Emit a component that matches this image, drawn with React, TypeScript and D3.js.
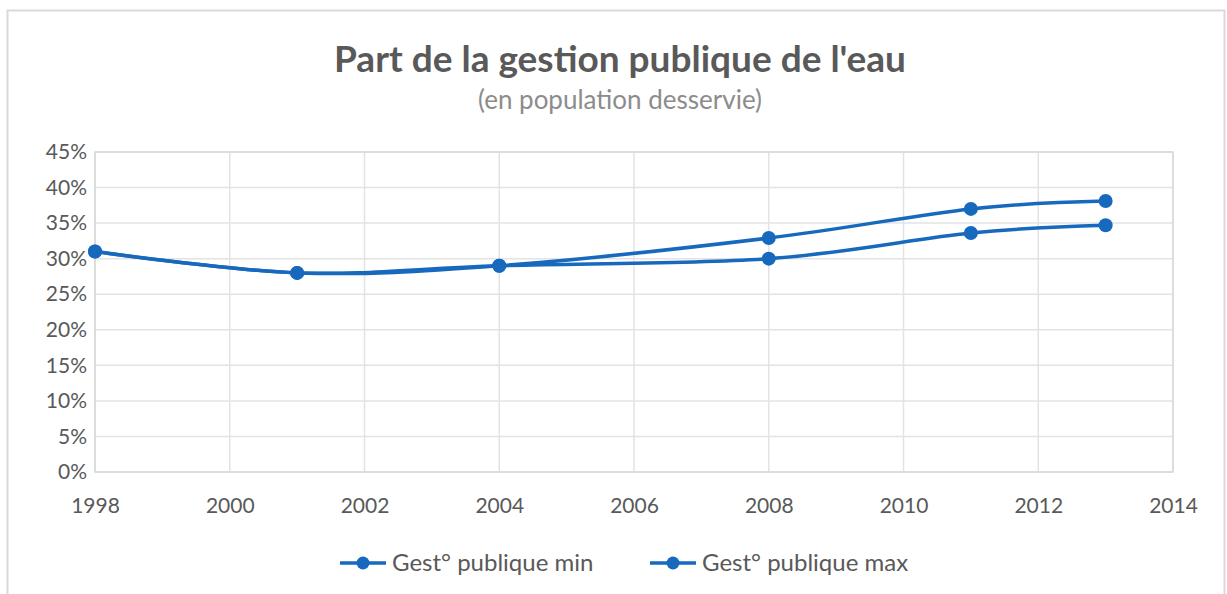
import React, { useEffect, useRef } from 'react';
import * as d3 from 'd3';

const years = [1998, 2001, 2004, 2008, 2011, 2013];
const minValues = [31, 28, 29, 30, 33.6, 34.7];
const maxValues = [31, 28, 29, 32.9, 37, 38.1];
const seriesNames = ['Gest° publique min', 'Gest° publique max'];
const xTicks = [1998, 2000, 2002, 2004, 2006, 2008, 2010, 2012, 2014];
const yTicks = [0, 5, 10, 15, 20, 25, 30, 35, 40, 45];

const BLUE = '#1769be';
const FONT = 'Lato, "Open Sans", sans-serif';

const App = () => {
    const svgRef = useRef<SVGSVGElement>(null);

    useEffect(() => {
        const width = 1227;
        const height = 594;
        const margin = { top: 152, right: 54, bottom: 122, left: 95 };

        const svg = d3.select(svgRef.current)
            .attr('width', width)
            .attr('height', height);
        svg.selectAll('*').remove();

        // outer chart frame
        svg.append('rect')
            .attr('x', 7.5).attr('y', 10.5)
            .attr('width', 1217).attr('height', 600)
            .attr('fill', '#fff')
            .attr('stroke', '#d9d9d9')
            .attr('stroke-width', 2);

        svg.append('text')
            .attr('x', 620).attr('y', 72)
            .attr('text-anchor', 'middle')
            .attr('font-family', FONT)
            .attr('font-size', 37)
            .attr('font-weight', 'bold')
            .attr('fill', '#595959')
            .text("Part de la gestion publique de l'eau");

        svg.append('text')
            .attr('x', 620).attr('y', 109)
            .attr('text-anchor', 'middle')
            .attr('font-family', FONT)
            .attr('font-size', 26)
            .attr('fill', '#8c8c8c')
            .text('(en population desservie)');

        const innerW = width - margin.left - margin.right;
        const innerH = height - margin.top - margin.bottom;

        const x = d3.scaleLinear().domain([1998, 2014]).range([0, innerW]);
        const y = d3.scaleLinear().domain([0, 45]).range([innerH, 0]);

        const chart = svg.append('g')
            .attr('transform', `translate(${margin.left}, ${margin.top})`);

        // gridlines
        chart.append('g')
            .selectAll('line.h')
            .data(yTicks)
            .enter()
            .append('line')
            .attr('x1', 0).attr('x2', innerW)
            .attr('y1', d => y(d)).attr('y2', d => y(d))
            .attr('stroke', '#e3e3e3')
            .attr('stroke-width', 1.5);

        chart.append('g')
            .selectAll('line.v')
            .data(xTicks)
            .enter()
            .append('line')
            .attr('x1', d => x(d)).attr('x2', d => x(d))
            .attr('y1', 0).attr('y2', innerH)
            .attr('stroke', '#e3e3e3')
            .attr('stroke-width', 1.5);

        chart.append('rect')
            .attr('width', innerW).attr('height', innerH)
            .attr('fill', 'none')
            .attr('stroke', '#d9d9d9')
            .attr('stroke-width', 1.5);

        // axis labels
        const yAxis = chart.append('g')
            .call(d3.axisLeft(y).tickValues(yTicks).tickSize(0).tickPadding(8).tickFormat(d => `${d}%`));
        yAxis.select('.domain').remove();
        yAxis.selectAll('text')
            .attr('font-family', FONT)
            .attr('font-size', 21)
            .attr('fill', '#595959');

        const xAxis = chart.append('g')
            .attr('transform', `translate(0, ${innerH})`)
            .call(d3.axisBottom(x).tickValues(xTicks).tickSize(0).tickPadding(26).tickFormat(d3.format('d')));
        xAxis.select('.domain').remove();
        xAxis.selectAll('text')
            .attr('font-family', FONT)
            .attr('font-size', 21)
            .attr('fill', '#595959');

        const line = d3.line<number>()
            .x((_, i) => x(years[i]))
            .y(d => y(d))
            .curve(d3.curveCatmullRom.alpha(0));

        [minValues, maxValues].forEach(values => {
            chart.append('path')
                .datum(values)
                .attr('d', line)
                .attr('fill', 'none')
                .attr('stroke', BLUE)
                .attr('stroke-width', 3.5);

            chart.selectAll(null)
                .data(values)
                .enter()
                .append('circle')
                .attr('cx', (_, i) => x(years[i]))
                .attr('cy', d => y(d))
                .attr('r', 7)
                .attr('fill', BLUE);
        });

        // legend
        const legendX = [340, 650];
        seriesNames.forEach((name, i) => {
            const g = svg.append('g').attr('transform', `translate(${legendX[i]}, 563)`);
            g.append('line')
                .attr('x1', 0).attr('x2', 46)
                .attr('stroke', BLUE)
                .attr('stroke-width', 3.5);
            g.append('circle')
                .attr('cx', 23).attr('r', 6.5)
                .attr('fill', BLUE);
            g.append('text')
                .attr('x', 52).attr('y', 8)
                .attr('font-family', FONT)
                .attr('font-size', 24)
                .attr('fill', '#595959')
                .text(name);
        });
    }, []);

    return <svg ref={svgRef} style={{ position: 'absolute', left: 0, top: 0 }}></svg>;
};

export default App;
